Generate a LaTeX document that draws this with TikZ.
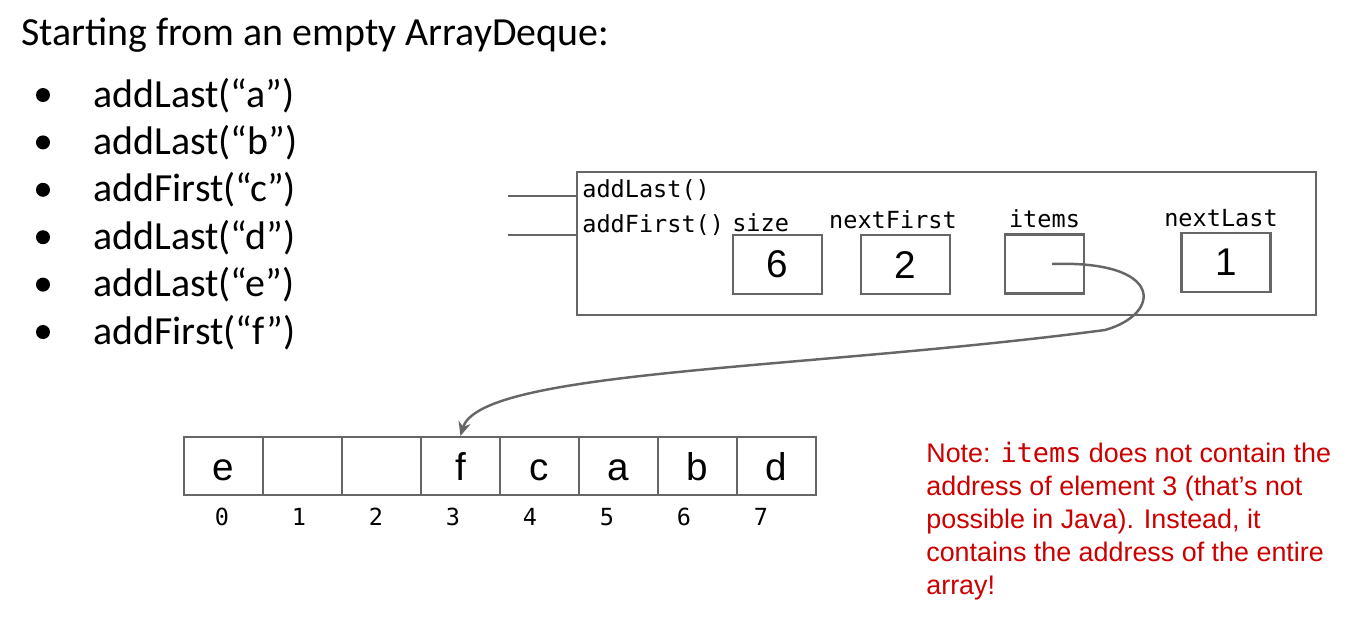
\documentclass[tikz,border=0pt]{standalone}
\usepackage{fontspec}
\setmainfont{Carlito}
\setmonofont{DejaVu Sans Mono}
\newfontfamily\arialfont{Liberation Sans}
\usepackage{tikz}
\usetikzlibrary{arrows.meta, positioning, calc}
\definecolor{gris}{RGB}{102,102,102}
\definecolor{rougenote}{RGB}{204,0,0}
\tikzstyle{titre} = [anchor = base west, inner sep = 0pt, font = \fontsize{22.7}{27}\selectfont]
\tikzstyle{puce} = [circle, fill = black, minimum size = 0.28cm, inner sep = 0pt]
\tikzstyle{methode} = [anchor = west, inner sep = 0pt, font = \ttfamily\fontsize{13.4}{15}\selectfont]
\tikzstyle{champ} = [rectangle, draw = gris, line width = 1.2pt, minimum width = 1.78cm, minimum height = 1.18cm, inner sep = 0pt, font = \arialfont\fontsize{22}{26}\selectfont]
\tikzstyle{case} = [champ, minimum width = 1.58cm, minimum height = 1.16cm, text height = 16pt, text depth = 0pt]
\tikzstyle{pointeur} = [draw = gris, line width = 1.4pt, -{Stealth[length = 8pt, width = 7pt]}]

\begin{document}
\begin{tikzpicture}[x = 0.02cm, y = -0.02cm]
\useasboundingbox (0,0) rectangle (1370,630);

\node (titre) [titre] at (21,45) {Starting from an empty ArrayDeque:};
\foreach \op [count = \i from 0] in {addLast(“a”), addLast(“b”), addFirst(“c”), addLast(“d”), addLast(“e”), addFirst(“f”)}
{
  \node (puce\i) [puce] at (43,{95+47.4*\i}) {};
  \node (op\i) [titre] at (93,{107+47.4*\i}) {\op};
}

\node (objet) [rectangle, draw = gris, line width = 1.2pt, minimum width = 14.78cm, minimum height = 2.86cm] at (946.5,243.5) {};
\node (addlast) [methode] at (582,190) {addLast()};
\node (addfirst) [methode] at (582,225) {addFirst()};
\coordinate (entreelast) at (508,196);
\coordinate (entreefirst) at (508,235);
\draw[gris, line width = 1.4pt] (entreelast) -- (entreelast -| objet.west);
\draw[gris, line width = 1.4pt] (entreefirst) -- (entreefirst -| objet.west);

\node (size) [champ] at (777.5,264.5) {6};
\node (nextfirst) [champ] at (905.5,264.5) {2};
\node (items) [champ, minimum width = 1.58cm] at (1044.5,264) {};
\node (nextlast) [champ] at (1226,262.5) {1};
\node [methode, anchor = south west] at ([yshift = 1pt]size.north west) {size};
\node [methode, anchor = south] at ([xshift = -0.25cm, yshift = 3pt]nextfirst.north) {nextFirst};
\node [methode, anchor = south] at ([yshift = 3pt]items.north) {items};
\node [methode, anchor = south] at ([xshift = -0.1cm, yshift = 3pt]nextlast.north) {nextLast};

\foreach \lettre [count = \i from 0] in {e, , , f, c, a, b, d}
  \node (c\i) [case] at ({223.5+79*\i},466) {\lettre};
\foreach \i in {0,...,7}
  \node (indice\i) [methode, anchor = center] at ({222+77*\i},517) {\i};

\draw[pointeur] ([xshift = 0.15cm]items.center) .. controls (1165,260) and (1162,314) .. (1105,330) .. controls (800,370) and (480,370) .. (c3.north);

\node (note) [anchor = north west, inner sep = 0pt, align = left, text = rougenote, font = \arialfont\fontsize{15.3}{18.8}\selectfont] at (926,442) {Note: {\ttfamily items} does not contain the\\address of element 3 (that’s not\\possible in Java). Instead, it\\contains the address of the entire\\array!};
\end{tikzpicture}
\end{document}
